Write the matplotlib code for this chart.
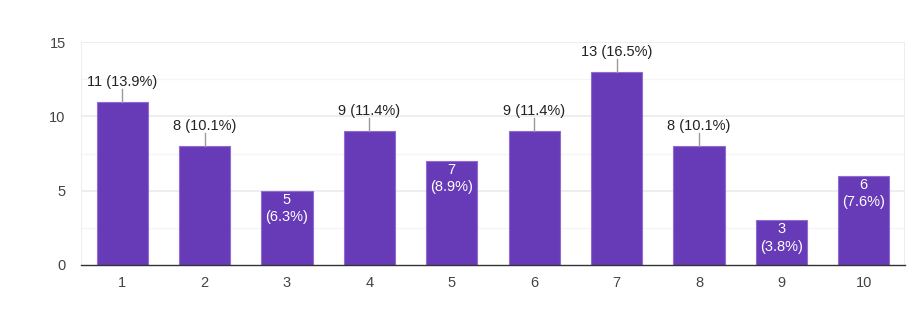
import matplotlib.pyplot as plt

plt.rcParams['font.family'] = ['Liberation Sans', 'DejaVu Sans']

categories = ['1', '2', '3', '4', '5', '6', '7', '8', '9', '10']
counts = [11, 8, 5, 9, 7, 9, 13, 8, 3, 6]
percents = [13.9, 10.1, 6.3, 11.4, 8.9, 11.4, 16.5, 10.1, 3.8, 7.6]

bar_color = '#673ab7'
x_pos = list(range(1, len(categories) + 1))

fig = plt.figure(figsize=(9.11, 3.34), dpi=100)
ax = fig.add_axes([0.0889, 0.2066, 0.9045, 0.6674])

# light grid, minor lines between the labelled ones
for y in [2.5, 7.5, 12.5]:
    ax.axhline(y, color='#f5f5f5', lw=1, zorder=0)
for y in [5, 10, 15]:
    ax.axhline(y, color='#ebebeb', lw=1.2, zorder=0)
ax.axvline(10.5, color='#ebebeb', lw=1.2, zorder=0)
ax.axvline(0.5, color='#ebebeb', lw=1.2, zorder=0)

ax.bar(x_pos, counts, width=0.62, color=bar_color, edgecolor='#8e6cd0',
       linewidth=0.8, zorder=2)

px = 15 / (0.6674 * 334)  # data units per pixel on the y axis
for x, c, p in zip(x_pos, counts, percents):
    if c >= 8:
        ax.plot([x, x], [c, c + 13 * px], color='#999999', lw=1, zorder=3)
        ax.text(x, c + 13 * px, f'{c} ({p}%)', ha='center', va='bottom',
                fontsize=10.5, color='#222222', zorder=4)
    else:
        ax.text(x, c - 2 * px, f'{c}\n({p}%)', ha='center', va='top',
                fontsize=10.5, color='white', linespacing=1.3, zorder=4)

ax.set_xlim(0.5, 10.5)
ax.set_ylim(0, 15)
ax.set_xticks(x_pos)
ax.set_xticklabels(categories)
ax.set_yticks([0, 5, 10, 15])
ax.tick_params(axis='both', length=0, labelsize=10.5, labelcolor='#444444')
ax.tick_params(axis='x', pad=8)
ax.tick_params(axis='y', pad=11)

for side in ['top', 'right', 'left']:
    ax.spines[side].set_visible(False)
ax.spines['bottom'].set_color('#333333')
ax.spines['bottom'].set_linewidth(1)

fig.savefig('out.png', dpi=100)
